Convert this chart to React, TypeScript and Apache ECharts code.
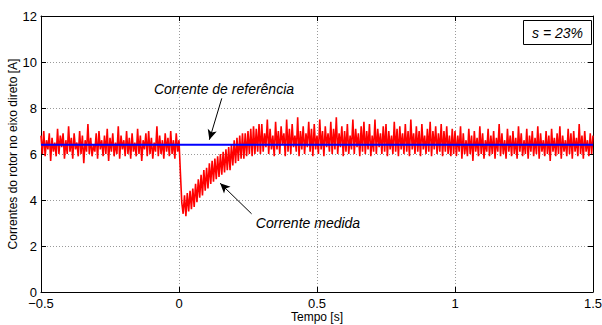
import React, { useEffect, useRef } from "react";
import * as echarts from "echarts";

// Time axis
const xMin = -0.5;
const xMax = 1.5;
const xTicks = [-0.5, 0, 0.5, 1, 1.5];
const yTicks = [0, 2, 4, 6, 8, 10, 12];

const sampleStart = -0.5;
const sampleStep = 0.005;
const redPre = [
  6.8, 6.0, 7.0, 5.9, 6.6, 6.2, 6.9, 5.7, 6.7, 6.1,
  6.5, 5.9, 7.1, 6.0, 6.8, 6.3, 6.9, 5.8, 6.6, 6.0,
  7.2, 6.1, 6.7, 5.8, 6.9, 6.2, 6.5, 5.9, 7.0, 6.0,
  6.8, 5.6, 6.6, 6.1, 7.3, 6.0, 6.7, 5.9, 6.4, 6.1,
  6.9, 5.8, 7.0, 6.2, 6.6, 5.9, 6.8, 6.0, 7.1, 5.7,
  6.7, 6.1, 6.9, 5.9, 6.5, 6.0, 7.2, 5.8, 6.8, 6.2,
  6.6, 5.9, 7.0, 6.0, 6.7, 5.8, 6.9, 6.1, 6.5, 5.9,
  7.1, 6.0, 6.8, 5.7, 6.6, 6.2, 6.9, 5.9, 7.0, 6.0,
  6.7, 5.8, 6.5, 6.1, 7.2, 5.9, 6.8, 6.0, 6.6, 5.8,
  6.9, 6.1, 6.7, 5.9, 7.0, 6.0, 6.6, 5.8, 6.9, 6.1,
];
const redDip = [
  6.6, 5.2, 3.9, 3.4, 4.2, 3.3, 4.3, 3.5, 4.4, 3.6,
  4.5, 3.7, 4.7, 3.9, 4.9, 4.1, 5.1, 4.2, 5.3, 4.4,
  5.4, 4.5, 5.6, 4.7, 5.7, 4.8, 5.8, 4.9, 5.9, 5.0,
  6.0, 5.1, 6.1, 5.2, 6.2, 5.3, 6.3, 5.3, 6.4, 5.5,
  6.6, 5.6, 6.7, 5.7, 6.8, 5.8, 6.9, 5.8, 6.9, 5.9,
  7.0, 6.0, 7.1, 5.9, 7.2, 6.0, 7.1, 6.1, 7.3, 6.0,
];
const redMid = [
  7.3, 6.1, 6.9, 6.3, 7.5, 6.0, 7.1, 6.2, 6.8, 5.9,
  7.4, 6.2, 7.0, 6.0, 7.2, 6.4, 6.9, 5.9, 7.5, 6.1,
  7.1, 6.0, 7.3, 6.3, 6.8, 6.1, 7.6, 5.9, 7.0, 6.2,
  7.2, 6.0, 6.9, 6.3, 7.4, 6.1, 7.1, 5.9, 7.3, 6.2,
  6.8, 6.0, 7.5, 6.2, 7.0, 5.9, 7.2, 6.3, 6.9, 6.1,
  7.4, 6.0, 7.1, 6.2, 7.6, 6.0, 6.9, 6.3, 7.2, 5.9,
  7.0, 6.1, 7.3, 6.0, 6.8, 6.2, 7.5, 6.0, 7.1, 6.3,
  6.9, 5.9, 7.2, 6.1, 7.4, 6.0, 7.0, 6.2, 7.3, 5.9,
  6.8, 6.1, 7.5, 6.0, 7.1, 6.3, 6.9, 6.0, 7.2, 6.1,
  7.3, 5.9, 7.0, 6.2, 6.8, 6.0, 7.4, 6.1, 7.1, 5.9,
  7.2, 6.2, 6.9, 6.0, 7.3, 6.1, 7.0, 5.9, 7.5, 6.2,
  6.9, 6.0, 7.2, 6.1, 7.0, 5.9, 7.3, 6.2, 6.8, 6.0,
  7.1, 6.1, 7.4, 5.9, 7.0, 6.2, 7.2, 6.0, 6.9, 6.1,
  7.3, 5.9, 7.0, 6.1, 7.2, 6.0, 6.8, 5.9, 7.1, 6.0,
];
const redLate = [
  7.0, 5.9, 6.8, 6.1, 7.2, 5.8, 6.9, 6.0, 6.6, 5.9,
  7.1, 6.0, 6.8, 5.7, 7.0, 6.1, 6.7, 5.9, 7.2, 6.0,
  6.9, 5.8, 6.6, 6.1, 7.1, 5.9, 6.8, 6.0, 7.0, 5.8,
  6.7, 6.1, 7.3, 5.9, 6.9, 6.0, 6.6, 5.8, 7.1, 6.1,
  6.8, 5.9, 7.0, 6.0, 6.7, 5.8, 7.2, 6.1, 6.9, 5.9,
  6.6, 6.0, 7.1, 5.8, 6.8, 6.1, 7.0, 5.9, 6.7, 6.0,
  7.2, 5.8, 6.9, 6.1, 6.6, 5.9, 7.0, 6.0, 6.8, 5.7,
  7.1, 6.1, 6.7, 5.9, 6.9, 6.0, 7.2, 5.8, 6.8, 6.1,
  6.6, 5.9, 7.1, 6.0, 6.9, 5.8, 7.0, 6.1, 6.7, 5.9,
  7.3, 6.0, 6.8, 5.8, 7.0, 6.1, 6.6, 5.9, 6.9, 6.0,
  6.8,
];

// Reference current
const refTimes = [-0.5, 1.5];
const refValues = [6.4, 6.4];

// Annotations (data coordinates)
const refLabel = "Corrente de referência";
const measLabel = "Corrente medida";
const slipLabel = "s = 23%";
const refArrow = [[0.155, 8.42], [0.11, 6.62]];
const measArrow = [[0.263, 3.4], [0.149, 4.73]];

const FONT = "Liberation Sans, Arial, Helvetica, sans-serif";

export default function App() {
  const ref = useRef<HTMLDivElement>(null);
  useEffect(() => {
    if (!ref.current) return;
    const chart = echarts.init(ref.current, undefined, { renderer: "svg" });
    const red = [...redPre, ...redDip, ...redMid, ...redLate].map((v, i) => [
      +(sampleStart + i * sampleStep).toFixed(3),
      v,
    ]);
    const blue = refTimes.map((t, i) => [t, refValues[i]]);
    const fmtX = (v: number) => {
      const s = String(Math.round(v * 10) / 10);
      return s.replace("-", "\u2212");
    };
    const axisLine = { show: true, onZero: false, lineStyle: { color: "#000", width: 1 } };
    const tickIn = { show: true, inside: true, length: 5, lineStyle: { color: "#000" } };
    chart.setOption({
      animation: false,
      backgroundColor: "#fff",
      grid: {
        left: 41,
        right: 9,
        top: 16,
        bottom: 33,
        containLabel: false,
        outerBoundsMode: "none",
      },
      xAxis: [
        {
          type: "value",
          min: xMin,
          max: xMax,
          interval: 0.5,
          axisLine,
          axisTick: tickIn,
          axisLabel: {
            color: "#000",
            fontSize: 13,
            lineHeight: 12,
            fontFamily: FONT,
            margin: 5,
            formatter: fmtX,
            customValues: xTicks,
          },
          splitLine: { show: true, lineStyle: { color: "#9a9a9a", type: [1, 2], width: 1 } },
          name: "Tempo [s]",
          nameLocation: "middle",
          nameGap: 19,
          nameMoveOverlap: false,
          nameTextStyle: { color: "#000", fontSize: 12, lineHeight: 12, fontFamily: FONT },
        },
        {
          type: "value",
          position: "top",
          min: xMin,
          max: xMax,
          interval: 0.5,
          axisLine,
          axisTick: tickIn,
          axisLabel: { show: false },
          splitLine: { show: false },
        },
      ],
      yAxis: [
        {
          type: "value",
          min: 0,
          max: 12,
          interval: 2,
          axisLine,
          axisTick: tickIn,
          axisLabel: {
            color: "#000",
            fontSize: 13,
            lineHeight: 10,
            fontFamily: FONT,
            margin: 4,
            customValues: yTicks,
          },
          splitLine: { show: true, lineStyle: { color: "#9a9a9a", type: [1, 2], width: 1 } },
          name: "Correntes do rotor no eixo direto [A]",
          nameLocation: "middle",
          nameGap: 22,
          nameMoveOverlap: false,
          nameTextStyle: { color: "#000", fontSize: 12, fontFamily: FONT },
        },
        {
          type: "value",
          position: "right",
          min: 0,
          max: 12,
          interval: 2,
          axisLine,
          axisTick: tickIn,
          axisLabel: { show: false },
          splitLine: { show: false },
        },
      ],
      series: [
        {
          type: "line",
          data: red,
          showSymbol: false,
          lineStyle: { color: "#ff0000", width: 1.6 },
          z: 2,
        },
        {
          type: "line",
          data: blue,
          showSymbol: false,
          lineStyle: { color: "#0000ff", width: 2 },
          z: 3,
          markLine: {
            silent: true,
            symbol: ["none", "arrow"],
            symbolSize: [7, 10],
            label: { show: false },
            lineStyle: { color: "#000", width: 1, type: "solid" },
            data: [
              [{ coord: refArrow[0] }, { coord: refArrow[1] }],
              [{ coord: measArrow[0] }, { coord: measArrow[1] }],
            ],
          },
        },
      ],
      graphic: [
        {
          type: "text",
          x: 224,
          y: 89,
          style: {
            text: refLabel,
            fill: "#000",
            font: `italic 14px ${FONT}`,
            textAlign: "center",
            textVerticalAlign: "middle",
          },
        },
        {
          type: "text",
          x: 308,
          y: 223,
          style: {
            text: measLabel,
            fill: "#000",
            font: `italic 14px ${FONT}`,
            textAlign: "center",
            textVerticalAlign: "middle",
          },
        },
        {
          type: "rect",
          shape: { x: 523.5, y: 20.5, width: 68, height: 24 },
          style: { fill: "#fff", stroke: "#000", lineWidth: 1 },
          z: 10,
        },
        {
          type: "text",
          x: 557.5,
          y: 32.5,
          z: 11,
          style: {
            text: slipLabel,
            fill: "#000",
            font: `italic 14px ${FONT}`,
            textAlign: "center",
            textVerticalAlign: "middle",
          },
        },
      ],
    });
    return () => chart.dispose();
  }, []);
  return (
    <div
      ref={ref}
      style={{ position: "fixed", left: 0, top: 0, width: 602, height: 325, background: "#fff" }}
    />
  );
}
